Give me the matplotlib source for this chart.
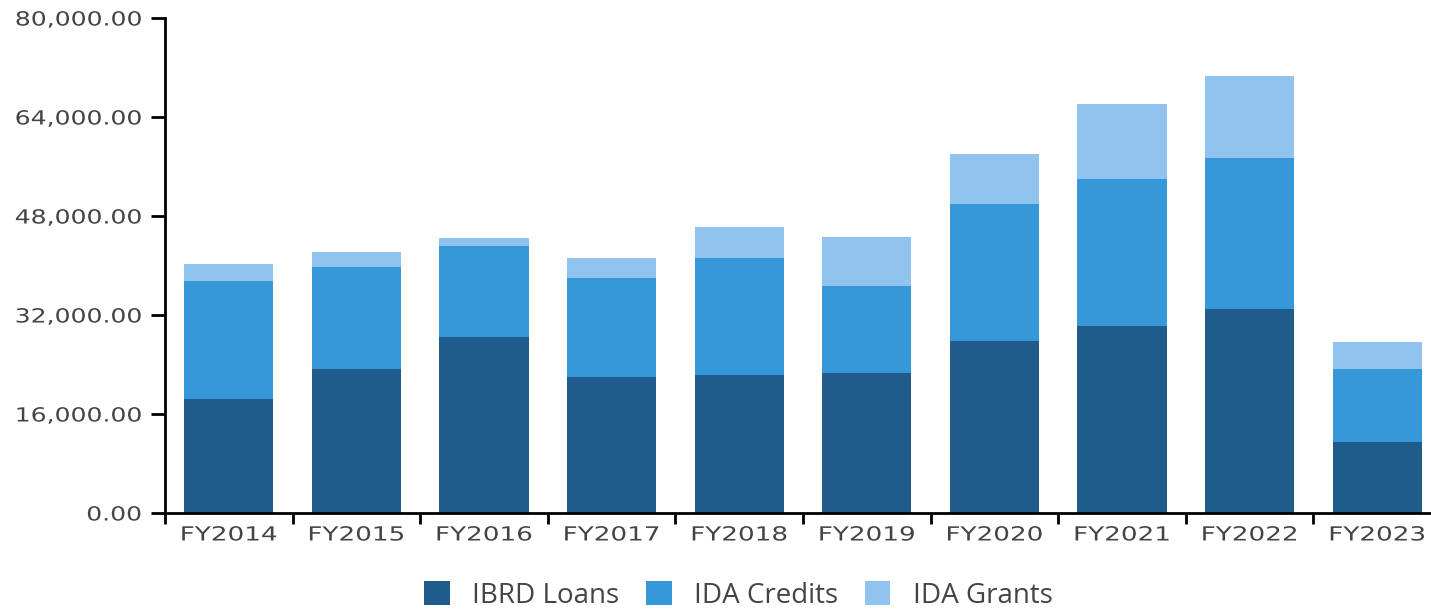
import numpy as np
import matplotlib.pyplot as plt
from matplotlib.ticker import FuncFormatter
from matplotlib.patheffects import AbstractPathEffect
from matplotlib.transforms import Affine2D

years = ['FY2014', 'FY2015', 'FY2016', 'FY2017', 'FY2018',
         'FY2019', 'FY2020', 'FY2021', 'FY2022', 'FY2023']
ibrd_loans = [18420, 23270, 28440, 21980, 22300, 22630, 27800, 30220, 32970, 11470]
ida_credits = [19070, 16490, 14710, 16000, 18910, 14060, 22140, 23760, 24400, 11800]
ida_grants = [2750, 2420, 1290, 3230, 5010, 7920, 8080, 12120, 13260, 4370]
y_ticks = [0, 16000, 32000, 48000, 64000, 80000]

C_IBRD = '#1f5c8b'
C_CRED = '#3697d9'
C_GRANT = '#90c4ee'
TXT = '#444444'


class Stretch(AbstractPathEffect):
    # widen glyphs horizontally about an anchor (0 left, 0.5 centre, 1 right)
    def __init__(self, sx, frac):
        super().__init__()
        self.sx = sx
        self.frac = frac

    def draw_path(self, renderer, gc, tpath, affine, rgbFace=None):
        ext = tpath.get_extents()
        x0 = ext.x0 + self.frac * ext.width
        t = Affine2D().translate(-x0, 0).scale(self.sx, 1).translate(x0, 0) + affine
        renderer.draw_path(gc, tpath, t, rgbFace)


fig = plt.figure(figsize=(14.31, 6.11), dpi=100)
ax = fig.add_axes([165/1431, 98/611, 1276/1431, 495/611])

x = np.arange(len(years))
w = 0.7
ax.bar(x, ibrd_loans, w, color=C_IBRD, label='IBRD Loans')
ax.bar(x, ida_credits, w, bottom=ibrd_loans, color=C_CRED, label='IDA Credits')
bottom2 = np.array(ibrd_loans) + np.array(ida_credits)
ax.bar(x, ida_grants, w, bottom=bottom2, color=C_GRANT, label='IDA Grants')

ax.set_xlim(-0.5, len(years) - 0.5)
ax.set_ylim(0, 80000)
ax.set_yticks(y_ticks)
ax.yaxis.set_major_formatter(FuncFormatter(lambda v, p: f'{v:,.2f}'))

# ticks sit on the band edges, labels at the band centres
ax.set_xticks(np.arange(-0.5, len(years), 1.0))
ax.set_xticklabels([])
ax.set_xticks(x, minor=True)
ax.set_xticklabels(years, minor=True)
ax.tick_params(axis='x', which='minor', length=0, pad=9)
ax.tick_params(axis='x', which='major', length=8, width=2, color='black')
ax.tick_params(axis='y', length=10, width=2, pad=7)
ax.tick_params(axis='both', which='both', labelsize=14, labelcolor=TXT)

for lab in ax.get_xticklabels(minor=True):
    lab.set_path_effects([Stretch(1.35, 0.5)])
for lab in ax.get_yticklabels():
    lab.set_path_effects([Stretch(1.29, 1.0)])

for s in ['top', 'right']:
    ax.spines[s].set_visible(False)
for s in ['left', 'bottom']:
    ax.spines[s].set_linewidth(2)
ax.spines['left'].set_bounds(0, 80000)

leg = fig.legend(loc='lower center', bbox_to_anchor=(0.516, 0.0), ncol=3, frameon=False,
                 prop={'family': 'Open Sans', 'size': 20}, handlelength=0.93,
                 handleheight=0.93, columnspacing=0.95, handletextpad=0.8,
                 borderpad=0.05, borderaxespad=0.0)
for t in leg.get_texts():
    t.set_color(TXT)

fig.savefig('out.png', dpi=100)
